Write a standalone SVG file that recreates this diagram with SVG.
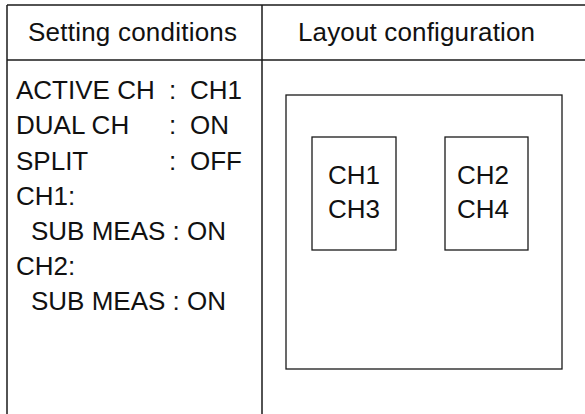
<svg xmlns="http://www.w3.org/2000/svg" width="585" height="414" viewBox="0 0 585 414">
<style>
.ln{stroke:#1a1a1a;stroke-width:1.5;fill:none}
.bx{stroke:#1a1a1a;stroke-width:1.3;fill:none}
text{font-family:"Liberation Sans",Arial,sans-serif;fill:#111}
.h{font-size:26px}
.t{font-size:26px}
</style>
<rect width="585" height="414" fill="#fff"/>
<g id="table">
<line class="ln" x1="7" y1="5" x2="585" y2="5"/>
<line class="ln" x1="7" y1="60" x2="585" y2="60"/>
<line class="ln" x1="7" y1="5" x2="7" y2="414"/>
<line class="ln" x1="262" y1="5" x2="262" y2="414"/>
</g>
<g id="header-left"><text class="h" x="28" y="41" textLength="209">Setting conditions</text></g>
<g id="header-right"><text class="h" x="298" y="41" textLength="237">Layout configuration</text></g>
<g id="conditions">
<text class="t" x="16" y="99">ACTIVE CH</text><text class="t" x="169" y="99">:</text><text class="t" x="190" y="99">CH1</text>
<text class="t" x="16" y="134">DUAL CH</text><text class="t" x="169" y="134">:</text><text class="t" x="190" y="134">ON</text>
<text class="t" x="16" y="170">SPLIT</text><text class="t" x="169" y="170">:</text><text class="t" x="190" y="170">OFF</text>
<text class="t" x="16" y="205">CH1:</text>
<text class="t" x="31" y="240">SUB MEAS : ON</text>
<text class="t" x="16" y="275">CH2:</text>
<text class="t" x="31" y="310">SUB MEAS : ON</text>
</g>
<g id="screen"><rect class="bx" x="286" y="95" width="276" height="274"/></g>
<g id="win1"><rect class="bx" x="312" y="137" width="84" height="113"/>
<text class="t" x="328" y="184">CH1</text><text class="t" x="328" y="218">CH3</text></g>
<g id="win2"><rect class="bx" x="445" y="137" width="83" height="113"/>
<text class="t" x="457" y="184">CH2</text><text class="t" x="457" y="218">CH4</text></g>
<g id="connectors"/>
</svg>
